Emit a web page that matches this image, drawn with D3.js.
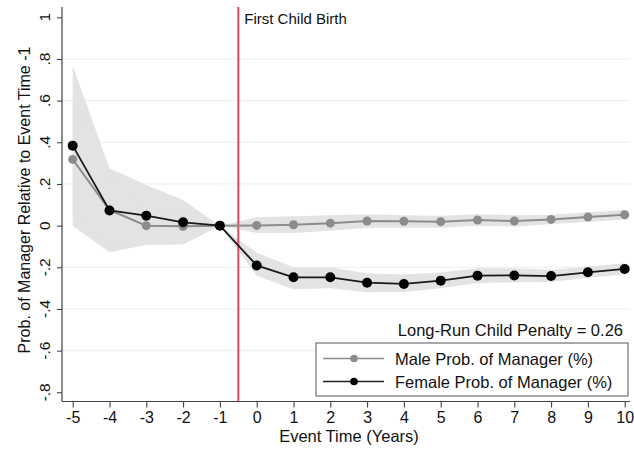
<!DOCTYPE html>
<html>
<head>
<meta charset="utf-8">
<script src="https://cdn.jsdelivr.net/npm/d3@7"></script>
<style>
  html, body { margin: 0; padding: 0; background: #fff; }
  svg { display: block; font-family: "Liberation Sans", Arial, sans-serif; }
</style>
</head>
<body>
<svg id="chart" width="634" height="449"></svg>
<script>
// ---- data ----
const eventTimes = [-5, -4, -3, -2, -1, 0, 1, 2, 3, 4, 5, 6, 7, 8, 9, 10];
const maleValues = [0.318, 0.075, 0.0, -0.003, 0, 0.001, 0.004, 0.012, 0.022, 0.021, 0.019, 0.027, 0.022, 0.030, 0.041, 0.052];
const femaleValues = [0.384, 0.073, 0.048, 0.016, 0, -0.191, -0.248, -0.248, -0.274, -0.280, -0.264, -0.240, -0.239, -0.242, -0.224, -0.208];
const maleLow  = [0.05, -0.09, -0.08, -0.08, 0, -0.035, -0.035, -0.025, -0.01, -0.01, -0.01, 0.0, -0.005, 0.008, 0.018, 0.03];
const maleHigh = [0.59, 0.24, 0.08, 0.07, 0, 0.04, 0.045, 0.05, 0.055, 0.05, 0.048, 0.055, 0.05, 0.052, 0.064, 0.075];
const femaleLow  = [0.0, -0.128, -0.093, -0.09, 0, -0.24, -0.305, -0.30, -0.32, -0.318, -0.30, -0.275, -0.272, -0.27, -0.25, -0.235];
const femaleHigh = [0.768, 0.275, 0.195, 0.123, 0, -0.13, -0.2, -0.2, -0.23, -0.235, -0.225, -0.205, -0.205, -0.212, -0.197, -0.18];
const yTickValues = [1, 0.8, 0.6, 0.4, 0.2, 0, -0.2, -0.4, -0.6, -0.8];
const yTickLabels = ["1", ".8", ".6", ".4", ".2", "0", "-.2", "-.4", "-.6", "-.8"];
const xTickLabels = ["-5", "-4", "-3", "-2", "-1", "0", "1", "2", "3", "4", "5", "6", "7", "8", "9", "10"];
const gridValues = [0.8, 0.6, 0.4, 0.2, -0.2, -0.4, -0.6];
const eventLine = -0.5;
const legendLabels = ["Male Prob. of Manager (%)", "Female Prob. of Manager (%)"];

// ---- layout ----
const svg = d3.select("#chart");
const x = d3.scaleLinear().domain([-5, 10]).range([72.7, 624.7]);
const y = d3.scaleLinear().domain([-0.8, 1]).range([392.3, 17.3]);
const axisX0 = 62, axisY0 = 401.5, plotTop = 7, plotRight = 630;

const bandColor = "#e3e3e3";
const maleColor = "#8c8c8c";
const femaleColor = "#000000";
const textColor = "#111";

// gridlines
svg.append("g").selectAll("line").data(gridValues).join("line")
  .attr("x1", axisX0).attr("x2", plotRight)
  .attr("y1", d => y(d)).attr("y2", d => y(d))
  .attr("stroke", "#e6f0f1").attr("stroke-width", 1);

// bands
const maleData = eventTimes.map((t, i) => ({t, v: maleValues[i], lo: maleLow[i], hi: maleHigh[i]}));
const femaleData = eventTimes.map((t, i) => ({t, v: femaleValues[i], lo: femaleLow[i], hi: femaleHigh[i]}));
const area = d3.area().x(d => x(d.t)).y0(d => y(d.lo)).y1(d => y(d.hi));
svg.append("path").datum(femaleData).attr("d", area).attr("fill", bandColor);
svg.append("path").datum(maleData).attr("d", area).attr("fill", bandColor);

// red event line
svg.append("line")
  .attr("x1", x(eventLine)).attr("x2", x(eventLine))
  .attr("y1", plotTop).attr("y2", axisY0)
  .attr("stroke", "#e04a64").attr("stroke-width", 2);
svg.append("text").attr("x", x(eventLine) + 6).attr("y", 24)
  .attr("font-size", 15).attr("fill", textColor).text("First Child Birth");

// lines and markers
const line = d3.line().x(d => x(d.t)).y(d => y(d.v));
svg.append("path").datum(maleData).attr("d", line)
  .attr("fill", "none").attr("stroke", maleColor).attr("stroke-width", 2);
svg.append("g").selectAll("circle").data(maleData).join("circle")
  .attr("cx", d => x(d.t)).attr("cy", d => y(d.v)).attr("r", 4.5).attr("fill", maleColor);
svg.append("path").datum(femaleData).attr("d", line)
  .attr("fill", "none").attr("stroke", "#1a1a1a").attr("stroke-width", 1.8);
svg.append("g").selectAll("circle").data(femaleData).join("circle")
  .attr("cx", d => x(d.t)).attr("cy", d => y(d.v)).attr("r", 5).attr("fill", femaleColor);

// y axis
const yAxisG = svg.append("g").attr("transform", `translate(${axisX0},0)`)
  .call(d3.axisLeft(y).tickValues(yTickValues).tickSize(5).tickSizeOuter(0).tickFormat(() => ""));
yAxisG.select(".domain").remove();
yAxisG.selectAll(".tick line").attr("stroke", "#333");
svg.append("line").attr("x1", axisX0).attr("x2", axisX0).attr("y1", plotTop).attr("y2", axisY0)
  .attr("stroke", "#444").attr("stroke-width", 1.2);
svg.append("g").selectAll("text").data(yTickValues).join("text")
  .attr("transform", d => `translate(50,${y(d)}) rotate(-90)`)
  .attr("text-anchor", "middle").attr("font-size", 15.5).attr("fill", textColor)
  .text((d, i) => yTickLabels[i]);
svg.append("text").attr("transform", `translate(30,200) rotate(-90)`)
  .attr("text-anchor", "middle").attr("font-size", 16).attr("fill", textColor)
  .text("Prob. of Manager Relative to Event Time -1");

// x axis
const xAxisG = svg.append("g").attr("transform", `translate(0,${axisY0})`)
  .call(d3.axisBottom(x).tickValues(eventTimes).tickSize(6).tickSizeOuter(0)
    .tickFormat((d, i) => xTickLabels[i]));
xAxisG.select(".domain").remove();
xAxisG.selectAll(".tick line").attr("stroke", "#333");
xAxisG.selectAll(".tick text").attr("font-size", 16).attr("fill", textColor)
  .attr("y", 21.5).attr("dy", 0)
  .attr("font-family", "Liberation Sans, Arial, sans-serif");
svg.append("line").attr("x1", axisX0).attr("x2", plotRight).attr("y1", axisY0).attr("y2", axisY0)
  .attr("stroke", "#444").attr("stroke-width", 1.2);
svg.append("text").attr("x", 349).attr("y", 441.5).attr("text-anchor", "middle")
  .attr("font-size", 16.5).attr("fill", textColor).text("Event Time (Years)");

// penalty text
svg.append("text").attr("x", 623).attr("y", 336).attr("text-anchor", "end")
  .attr("font-size", 16.5).attr("fill", textColor).text("Long-Run Child Penalty = 0.26");

// legend
const lg = svg.append("g");
lg.append("rect").attr("x", 316).attr("y", 343).attr("width", 312).attr("height", 53)
  .attr("fill", "#fff").attr("stroke", "#555").attr("stroke-width", 1);
const legendRows = [
  {label: legendLabels[0], y: 358.5, line: "#8c8c8c", dot: maleColor},
  {label: legendLabels[1], y: 381.5, line: "#222", dot: femaleColor}
];
legendRows.forEach(r => {
  lg.append("line").attr("x1", 323).attr("x2", 384).attr("y1", r.y).attr("y2", r.y)
    .attr("stroke", r.line).attr("stroke-width", 1.6);
  lg.append("circle").attr("cx", 354).attr("cy", r.y).attr("r", 3.8).attr("fill", r.dot);
  lg.append("text").attr("x", 395).attr("y", r.y + 6.5).attr("font-size", 16.5).attr("fill", textColor).text(r.label);
});
</script>
</body>
</html>
